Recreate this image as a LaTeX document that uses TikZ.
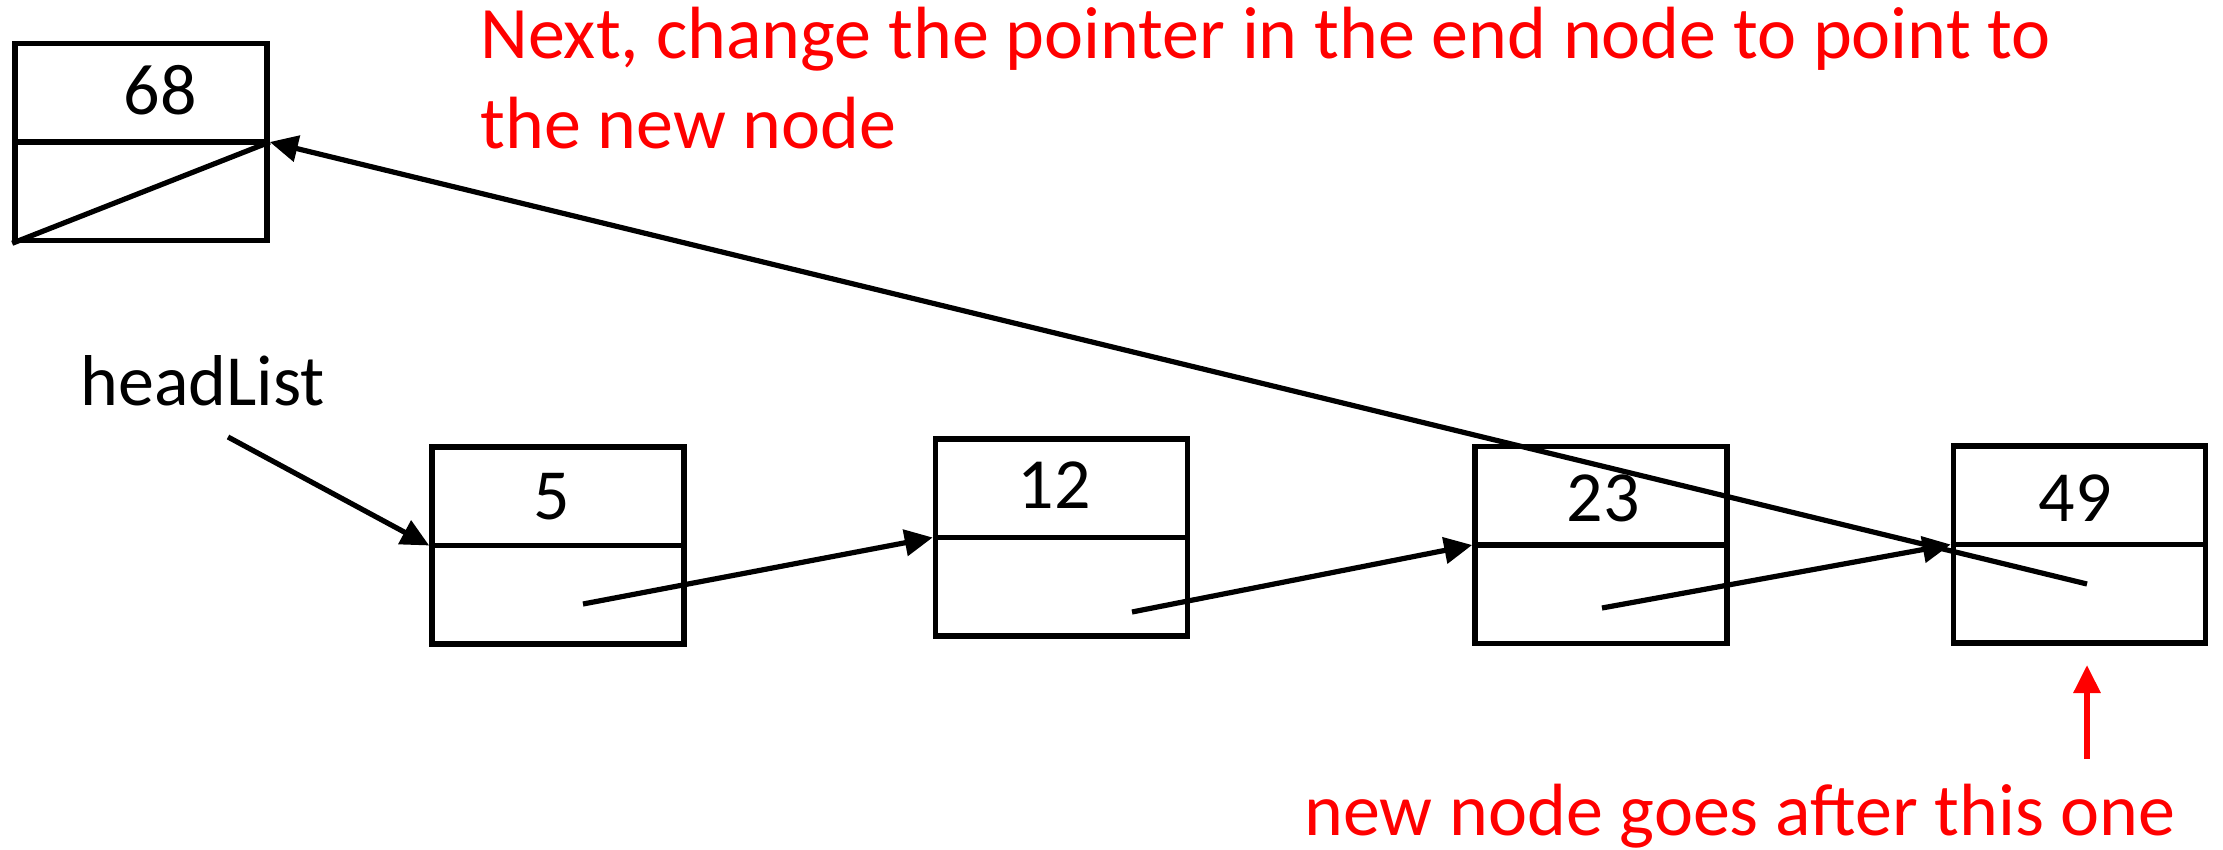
\documentclass[tikz,border=0pt]{standalone}
\usepackage{fontspec}
\setmainfont{Carlito}
\usetikzlibrary{arrows.meta}
\begin{document}
\begin{tikzpicture}[x=0.5pt,y=-0.5pt,
  cell/.style={draw, line width=2.8pt, minimum width=126pt, minimum height=98.5pt, inner sep=0pt},
  val/.style={font=\fontsize{36}{43}\selectfont, inner sep=0pt},
  ptr/.style={line width=2.6pt, -{Triangle[length=14pt,width=13pt]}},
  redptr/.style={red, line width=3pt, -{Triangle[length=14pt,width=13pt]}},
  note/.style={text=red, font=\fontsize{37}{45}\selectfont, inner sep=0pt, align=left}]
\useasboundingbox (0,0) rectangle (2223,850);

% boxes
\node[cell] (b68) at (141,142) {};
\node[cell] (b5) at (558,545.5) {};
\node[cell] (b12) at (1061.5,537.5) {};
\node[cell] (b23) at (1601,545) {};
\node[cell] (b49) at (2079.5,544.5) {};
\foreach \b in {b68,b5,b12,b23,b49} \draw[line width=2.8pt] (\b.west) -- (\b.east);

% values
\node[val] (t68) at (160,90) {68};
\node[val] (t5) at (552,497) {5};
\node[val] (t12) at (1054,485) {12};
\node[val] (t23) at (1603,498) {23};
\node[val] (t49) at (2075,498) {49};

% null pointer in new node
\draw[line width=2.6pt] (b68.south west) -- (b68.east);

% headList
\node[val, anchor=base west] (head) at (80,405) {headList};
\coordinate (h0) at (228,437);
\draw[ptr] (h0) -- (b5.west);

% pointers
\coordinate (p5) at (583,604);
\coordinate (p12) at (1132,612);
\coordinate (p23) at (1602,608);
\coordinate (p49) at (2087,584);
\draw[ptr] (p5) -- (b12.west);
\draw[ptr] (p12) -- (b23.west);
\draw[ptr] (p23) -- (b49.west);
\draw[ptr] (p49) -- (b68.east);

% notes
\node[note, anchor=base west] (note1) at (480,149) {Next, change the pointer in the end node to point to\\the new node};
\node[note, anchor=base west] (note2) at (1304,835) {new node goes after this one};
\coordinate (r0) at (2087,759);
\coordinate (r1) at (2087,665);
\draw[redptr] (r0) -- (r1);
\end{tikzpicture}
\end{document}
